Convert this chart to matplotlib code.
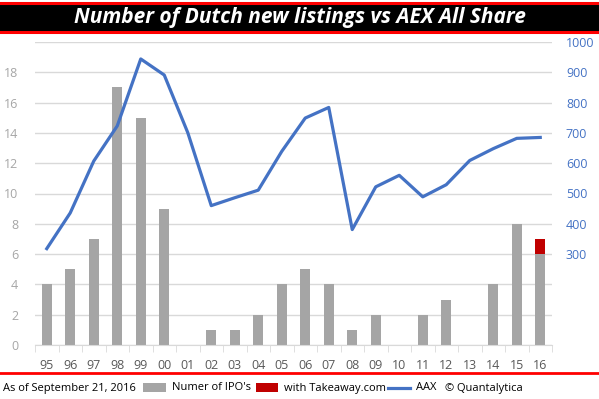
import matplotlib.pyplot as plt
import numpy as np
from matplotlib.patches import Rectangle
from matplotlib.lines import Line2D

years = ['95', '96', '97', '98', '99', '00', '01', '02', '03', '04', '05',
         '06', '07', '08', '09', '10', '11', '12', '13', '14', '15', '16']
ipos = [4, 5, 7, 17, 15, 9, 0, 1, 1, 2, 4, 5, 4, 1, 2, 0, 2, 3, 0, 4, 8, 6]
takeaway = [0] * 21 + [1]
aax = [318, 436, 607, 723, 944, 891, 701, 460, 486, 511, 639,
       749, 784, 381, 522, 560, 489, 529, 609, 648, 682, 685]

grey = '#a5a5a5'
red = '#c00000'
blue = '#4472c4'
W, H = 599, 399

plt.rcParams['font.family'] = ['Open Sans', 'DejaVu Sans']

fig = plt.figure(figsize=(W / 100, H / 100), dpi=100)
fig.patch.set_facecolor('white')

# title bar
fig.patches.append(Rectangle((0, 1 - 32 / H), 1, 30 / H, transform=fig.transFigure,
                             facecolor='black', edgecolor='none'))
fig.add_artist(Line2D([0, 1], [1 - 2.5 / H] * 2, color='red', lw=2.2, transform=fig.transFigure))
fig.add_artist(Line2D([0, 1], [1 - 31.5 / H] * 2, color='red', lw=2.2, transform=fig.transFigure))
fig.text(0.5, 1 - 17 / H, 'Number of Dutch new listings vs AEX All Share', color='white',
         fontsize=15, fontweight='bold', style='italic', ha='center', va='center')

ax = fig.add_axes([35 / W, 54 / H, 517 / W, 303 / H])
x = np.arange(len(years))
ax.bar(x, ipos, width=0.44, color=grey, zorder=2)
ax.bar(x, takeaway, width=0.44, bottom=ipos, color=red, zorder=2)
ax.set_xlim(-0.5, len(years) - 0.5)
ax.set_ylim(0, 20)
ax.set_yticks(range(0, 22, 2))
ax.set_yticklabels([str(v) for v in range(0, 20, 2)] + [''])
ax.grid(axis='y', color='#d9d9d9', lw=1, zorder=0)
for s in ['top', 'right', 'left']:
    ax.spines[s].set_visible(False)
ax.spines['bottom'].set_color('#d9d9d9')
ax.set_xticks(x)
ax.set_xticklabels(years)
ax.set_xticks(np.arange(-0.5, len(years), 1), minor=True)
ax.tick_params(axis='x', which='major', length=0, pad=10, labelsize=9, labelcolor='#595959')
ax.tick_params(axis='x', which='minor', length=5, color='#d9d9d9')
ax.tick_params(axis='y', length=0, pad=12, labelsize=9, labelcolor='#a6a6a6')

ax2 = ax.twinx()
ax2.plot(x, aax, color=blue, lw=2.3, zorder=3)
ax2.set_ylim(0, 1000)
ax2.set_yticks(range(300, 1100, 100))
ax2.tick_params(axis='y', length=0, pad=10, labelsize=9, labelcolor=blue)
for s in ax2.spines.values():
    s.set_visible(False)

# footer
fig.add_artist(Line2D([0, 1], [1 - 373 / H] * 2, color='red', lw=2, transform=fig.transFigure))
fy = 1 - 388 / H
fs = 8
fig.text(3 / W, fy, 'As of September 21, 2016', fontsize=fs, va='center', color='black')
fig.patches.append(Rectangle((143 / W, fy - 4 / H), 23 / W, 9 / H, transform=fig.transFigure,
                             facecolor=grey, edgecolor='none'))
fig.text(172 / W, fy, "Numer of IPO's", fontsize=fs, va='center', color='black')
fig.patches.append(Rectangle((256 / W, fy - 4 / H), 22 / W, 9 / H, transform=fig.transFigure,
                             facecolor=red, edgecolor='none'))
fig.text(284 / W, fy, 'with Takeaway.com', fontsize=fs, va='center', color='black')
fig.add_artist(Line2D([388 / W, 410 / W], [fy, fy], color=blue, lw=2.3, transform=fig.transFigure))
fig.text(416 / W, fy, 'AAX', fontsize=fs, va='center', color='black')
fig.text(445 / W, fy, '© Quantalytica', fontsize=fs, va='center', color='black')

fig.savefig('out.png', dpi=100)
